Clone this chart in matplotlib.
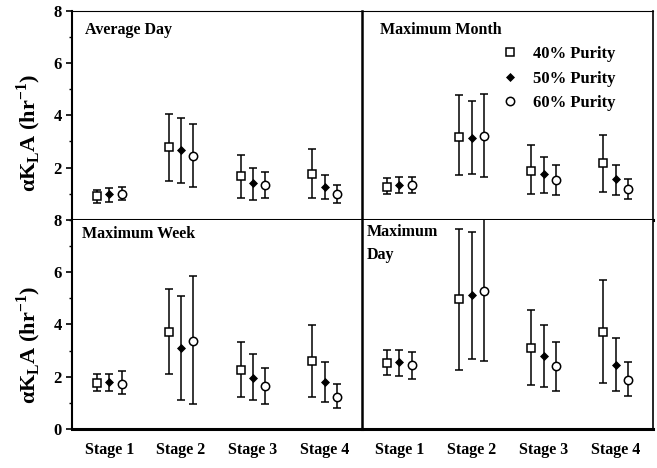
import matplotlib
matplotlib.use("Agg")
import matplotlib.pyplot as plt
from matplotlib.lines import Line2D
from matplotlib.ticker import MultipleLocator

plt.rcParams['font.family'] = ['Liberation Serif', 'DejaVu Serif']
plt.rcParams['font.weight'] = 'bold'

stages = ['Stage 1', 'Stage 2', 'Stage 3', 'Stage 4']
purities = ['40% Purity', '50% Purity', '60% Purity']

# values: one list per purity, stages 1-4
avg_day_mean = [[0.91, 2.79, 1.68, 1.74], [0.99, 2.67, 1.42, 1.27], [1.00, 2.44, 1.35, 1.00]]
avg_day_low = [[0.65, 1.49, 0.85, 0.85], [0.69, 1.40, 0.77, 0.80], [0.75, 1.27, 0.83, 0.63]]
avg_day_high = [[1.14, 4.04, 2.48, 2.72], [1.20, 3.90, 1.99, 1.71], [1.27, 3.68, 1.84, 1.33]]

max_month_mean = [[1.26, 3.17, 1.87, 2.16], [1.33, 3.14, 1.74, 1.55], [1.33, 3.20, 1.52, 1.17]]
max_month_low = [[0.98, 1.70, 0.98, 1.07], [1.02, 1.74, 1.02, 0.94], [1.02, 1.64, 0.95, 0.81]]
max_month_high = [[1.59, 4.76, 2.86, 3.26], [1.65, 4.53, 2.41, 2.10], [1.65, 4.83, 2.10, 1.55]]

max_week_mean = [[1.76, 3.72, 2.27, 2.59], [1.78, 3.10, 1.97, 1.78], [1.73, 3.38, 1.63, 1.24]]
max_week_low = [[1.44, 2.12, 1.24, 1.24], [1.44, 1.12, 1.12, 1.03], [1.35, 0.95, 0.95, 0.82]]
max_week_high = [[2.12, 5.35, 3.32, 3.96], [2.10, 5.09, 2.87, 2.56], [2.23, 5.86, 2.33, 1.73]]

max_day_mean = [[2.53, 4.96, 3.08, 3.72], [2.56, 5.12, 2.78, 2.46], [2.44, 5.28, 2.40, 1.86]]
max_day_low = [[2.05, 2.24, 1.69, 1.76], [2.01, 2.68, 1.59, 1.46], [1.92, 2.59, 1.46, 1.28]]
max_day_high = [[3.04, 7.65, 4.55, 5.69], [3.04, 7.53, 3.97, 3.49], [2.94, 8.60, 3.33, 2.56]]

markers = [
    dict(marker='s', mfc='white', mec='black', ms=5.5),
    dict(marker='D', mfc='black', mec='black', ms=3.5),
    dict(marker='o', mfc='white', mec='black', ms=6),
]
offsets = [-0.17, 0.0, 0.17]

fig = plt.figure(figsize=(6.57, 4.68), dpi=100)
L, M, R = 0.1096, 0.551, 0.994
B, H = 0.0833, 0.447
ax_tl = fig.add_axes([L, B + H, M - L, H])
ax_tr = fig.add_axes([M, B + H, R - M, H])
ax_bl = fig.add_axes([L, B, M - L, H])
ax_br = fig.add_axes([M, B, R - M, H])

panels = [
    (ax_tl, 'Average Day', avg_day_mean, avg_day_low, avg_day_high),
    (ax_tr, 'Maximum Month', max_month_mean, max_month_low, max_month_high),
    (ax_bl, 'Maximum Week', max_week_mean, max_week_low, max_week_high),
    (ax_br, 'Maximum\nDay', max_day_mean, max_day_low, max_day_high),
]

for ax, title, mean, low, high in panels:
    for k in range(3):
        xs = [i + 1 + offsets[k] for i in range(4)]
        err = [[m - lo for m, lo in zip(mean[k], low[k])],
               [hi - m for m, hi in zip(mean[k], high[k])]]
        ax.errorbar(xs, mean[k], yerr=err, fmt='none', ecolor='black',
                    elinewidth=1.1, capsize=2.8, capthick=1.1)
        ax.plot(xs, mean[k], ls='none', mew=1.1, zorder=3, **markers[k])
    ax.set_xlim(0.48, 4.52)
    ax.set_ylim(0, 8)
    ax.set_xticks(range(1, 5))
    ax.tick_params(axis='x', length=0, pad=9, labelsize=11.5)
    ax.tick_params(axis='y', which='major', direction='out', length=4, width=1.2, labelsize=12)
    ax.tick_params(axis='y', which='minor', direction='out', length=2.5, width=1)
    ax.yaxis.set_major_locator(MultipleLocator(2))
    ax.yaxis.set_minor_locator(MultipleLocator(1))
    if title.startswith('Maximum\n'):
        ax.text(0.017, 0.98, title, transform=ax.transAxes, ha='left', va='top',
                fontsize=11.5, fontweight='bold', linespacing=1.55)
    else:
        ax.text(0.045 if ax is ax_tl else (0.062 if ax is ax_tr else 0.034),
                0.905 if ax in (ax_tl, ax_tr) else 0.93, title,
                transform=ax.transAxes, ha='left', va='center',
                fontsize=11.5, fontweight='bold')

for ax in (ax_tl, ax_tr):
    ax.set_xticklabels([])
    ax.spines['bottom'].set_linewidth(2.2)
    ax.spines['top'].set_linewidth(0.8)
for ax in (ax_bl, ax_br):
    ax.set_xticklabels(stages, fontweight='bold')
    ax.spines['bottom'].set_linewidth(2.2)
    ax.spines['top'].set_visible(False)
for ax in (ax_tr, ax_br):
    ax.tick_params(axis='y', which='both', left=False, labelleft=False)
    ax.spines['left'].set_linewidth(1.8)
    ax.spines['right'].set_linewidth(1.2)
for ax in (ax_tl, ax_bl):
    ax.spines['right'].set_visible(False)
    ax.spines['left'].set_linewidth(1.5)
    ax.set_ylabel('αK$_\\mathregular{L}$A (hr$^\\mathregular{-1}$)', fontsize=16,
                  fontweight='bold')
ax_tl.yaxis.set_label_coords(-0.10, 0.414)
ax_bl.yaxis.set_label_coords(-0.10, 0.404)

ax_tl.set_yticks([2, 4, 6, 8])
ax_tl.set_yticklabels(['2', '4', '6', '8'])

handles = [Line2D([], [], ls='none', mew=1.1, **markers[k]) for k in range(3)]
ax_tr.legend(handles, purities, loc='upper left', bbox_to_anchor=(0.48, 0.83),
             frameon=False, handlelength=1.0, handletextpad=0.9,
             labelspacing=0.5, borderpad=0, borderaxespad=0,
             prop={'weight': 'bold', 'size': 12})

fig.savefig('out.png', dpi=100)
